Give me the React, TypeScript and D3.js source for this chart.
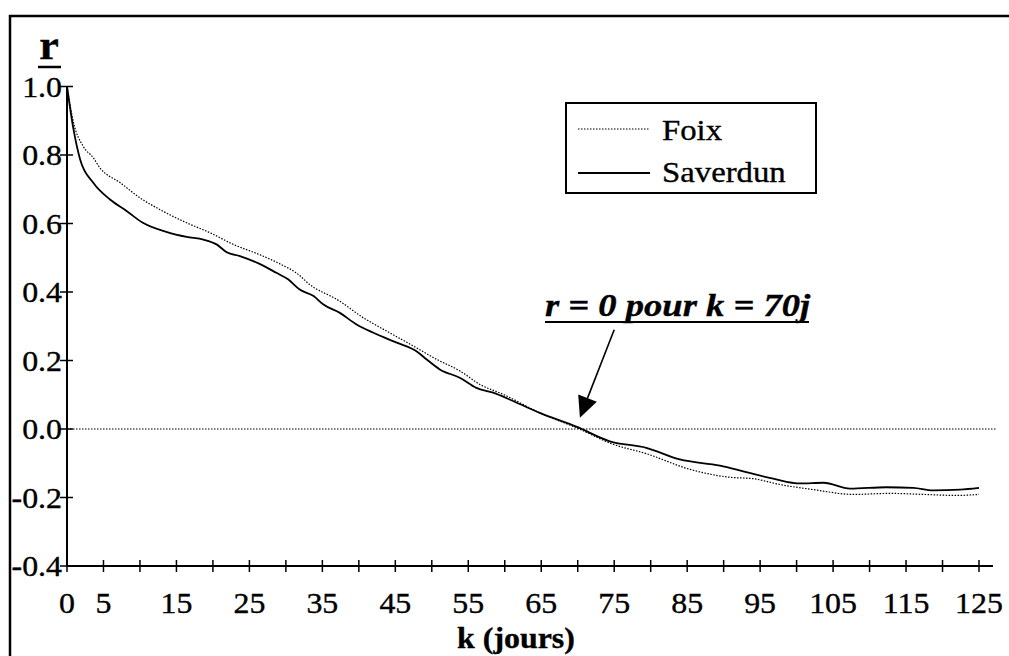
import * as d3 from "d3"

// Autocorrélation simple des débits
const saverdunK = [0, 0.9, 1.8, 3.6, 5.9, 8.2, 10.4, 13.7, 16.4, 18.7, 20.5, 21.9, 23.7, 26.4, 28.7, 30.3, 31.9, 33.8, 35.1, 37.4, 39.7, 42, 45.2, 47.9, 49.3, 51.1, 53.9, 56.1, 58.4, 61.2, 64.8, 69.9, 74.4, 79.4, 84, 89.5, 93.1, 96.8, 100.5, 103.7, 107.3, 112.3, 116, 118.7, 122.4, 125]
const saverdunR = [1.0, 0.874, 0.787, 0.719, 0.67, 0.636, 0.602, 0.575, 0.561, 0.553, 0.539, 0.516, 0.505, 0.482, 0.456, 0.437, 0.407, 0.388, 0.364, 0.339, 0.305, 0.281, 0.252, 0.227, 0.203, 0.174, 0.149, 0.12, 0.106, 0.081, 0.047, 0.006, -0.036, -0.055, -0.089, -0.107, -0.126, -0.145, -0.159, -0.157, -0.174, -0.17, -0.172, -0.179, -0.177, -0.172]

const foixK = [0, 0.9, 2.2, 3.6, 4.5, 7.3, 10, 12.7, 16.4, 19.6, 22.8, 26.4, 29.2, 31.9, 32.8, 37.4, 40.6, 43.8, 47.5, 50.7, 53.9, 56.6, 59.8, 64.8, 69.9, 74.9, 79.4, 85.4, 90.9, 94, 97.7, 102.3, 107.8, 112.8, 117.4, 121.9, 125]
const foixR = [1.0, 0.894, 0.826, 0.792, 0.763, 0.719, 0.675, 0.641, 0.602, 0.573, 0.539, 0.509, 0.482, 0.448, 0.43, 0.373, 0.325, 0.286, 0.242, 0.203, 0.169, 0.13, 0.101, 0.047, 0.003, -0.045, -0.072, -0.118, -0.141, -0.145, -0.162, -0.177, -0.191, -0.188, -0.191, -0.194, -0.191]

const xTicks = d3.range(0, 126, 5)
const xLabels = [0, 5, 15, 25, 35, 45, 55, 65, 75, 85, 95, 105, 115, 125]
const yTicks = [1.0, 0.8, 0.6, 0.4, 0.2, 0.0, -0.2, -0.4]

const W = 1009
const H = 656
const FONT = "'Liberation Serif', 'Times New Roman', serif"
const SX = 1.1 // le scan est un peu étiré en largeur

const T = ({ x, y, s = SX, anchor = "start", size = 29, weight = "normal", style = "normal", children }: any) => (
    <text transform={`translate(${x},${y}) scale(${s},1)`} textAnchor={anchor}
        fontSize={size} fontWeight={weight} fontStyle={style} fontFamily={FONT}
        fill="#000" stroke="#000" strokeWidth={0.35}>
        {children}
    </text>
)

export default function App() {
    const xScale = d3.scaleLinear().domain([0, 125]).range([67, 979])
    const yScale = d3.scaleLinear().domain([-0.4, 1.0]).range([566, 86.5])

    const line = d3.line<[number, number]>()
        .x(d => xScale(d[0]))
        .y(d => yScale(d[1]))
        .curve(d3.curveMonotoneX)

    const sav = saverdunK.map((k, i) => [k, saverdunR[i]] as [number, number])
    const foix = foixK.map((k, i) => [k, foixR[i]] as [number, number])

    const x0 = xScale(0)
    const yBottom = yScale(-0.4)

    // flèche de l'annotation
    const tip: [number, number] = [xScale(70.3), yScale(0.033)]
    const from: [number, number] = [xScale(75), yScale(0.29)]
    const ang = Math.atan2(tip[1] - from[1], tip[0] - from[0])
    const hl = 21, hw = 10
    const bx = tip[0] - hl * Math.cos(ang), by = tip[1] - hl * Math.sin(ang)
    const head = [
        tip,
        [bx + hw * Math.sin(ang), by - hw * Math.cos(ang)],
        [bx - hw * Math.sin(ang), by + hw * Math.cos(ang)],
    ].map(p => p.join(",")).join(" ")

    return (
        <svg width={W} height={H} viewBox={`0 0 ${W} ${H}`}
            style={{ position: "absolute", left: 0, top: 0, background: "#fff" }}>
            {/* cadre */}
            <rect x={10} y={16} width={W + 20} height={H + 20} fill="none" stroke="#000" strokeWidth={2.5} />

            {/* titre axe y */}
            <T x={49} y={59} size={42} weight="bold" s={1.05} anchor="middle">r</T>
            <line x1={38} x2={61} y1={67} y2={67} stroke="#000" strokeWidth={2.5} />

            {/* ligne zéro */}
            <line x1={x0} x2={997} y1={yScale(0)} y2={yScale(0)} stroke="#000" strokeWidth={1.2} strokeDasharray="1.5 1.5" />

            {/* axe y */}
            <line x1={x0} x2={x0} y1={yScale(1.0)} y2={yBottom} stroke="#000" strokeWidth={2} />
            {yTicks.map(t => (
                <g key={t}>
                    <line x1={x0 - 7} x2={x0 + 6} y1={yScale(t)} y2={yScale(t)} stroke="#000" strokeWidth={1.5} />
                    <T x={x0 - 5} y={yScale(t) + 10} anchor="end">{d3.format(".1f")(t).replace("−", "-")}</T>
                </g>
            ))}

            {/* axe x */}
            <line x1={x0} x2={993} y1={yBottom} y2={yBottom} stroke="#000" strokeWidth={2} />
            {xTicks.map(t => (
                <line key={t} x1={xScale(t)} x2={xScale(t)} y1={yBottom - 6} y2={yBottom + 6} stroke="#000" strokeWidth={1.5} />
            ))}
            {xLabels.map(t => (
                <T key={t} x={xScale(t)} y={613} anchor="middle">{t}</T>
            ))}
            <T x={516} y={648} anchor="middle" size={29} weight="bold">k (jours)</T>

            {/* courbes */}
            <path d={line(foix) ?? ""} fill="none" stroke="#000" strokeWidth={1.2} strokeDasharray="1.5 1.5" />
            <path d={line(sav) ?? ""} fill="none" stroke="#000" strokeWidth={1.8} />

            {/* légende */}
            <rect x={566} y={103} width={250} height={90} fill="#fff" stroke="#000" strokeWidth={2} />
            <line x1={578} x2={650} y1={129} y2={129} stroke="#000" strokeWidth={1.2} strokeDasharray="1.5 1.5" />
            <T x={662} y={140} s={1.13}>Foix</T>
            <line x1={578} x2={650} y1={173} y2={173} stroke="#000" strokeWidth={1.8} />
            <T x={662} y={182} s={1.13}>Saverdun</T>

            {/* annotation */}
            <T x={545} y={316} size={31} weight="bold" style="italic" s={1.18}>r = 0 pour k = 70j</T>
            <line x1={545} x2={809} y1={322} y2={322} stroke="#000" strokeWidth={2} />
            <line x1={from[0]} y1={from[1]} x2={bx} y2={by} stroke="#000" strokeWidth={1.6} />
            <polygon points={head} fill="#000" />
        </svg>
    )
}
